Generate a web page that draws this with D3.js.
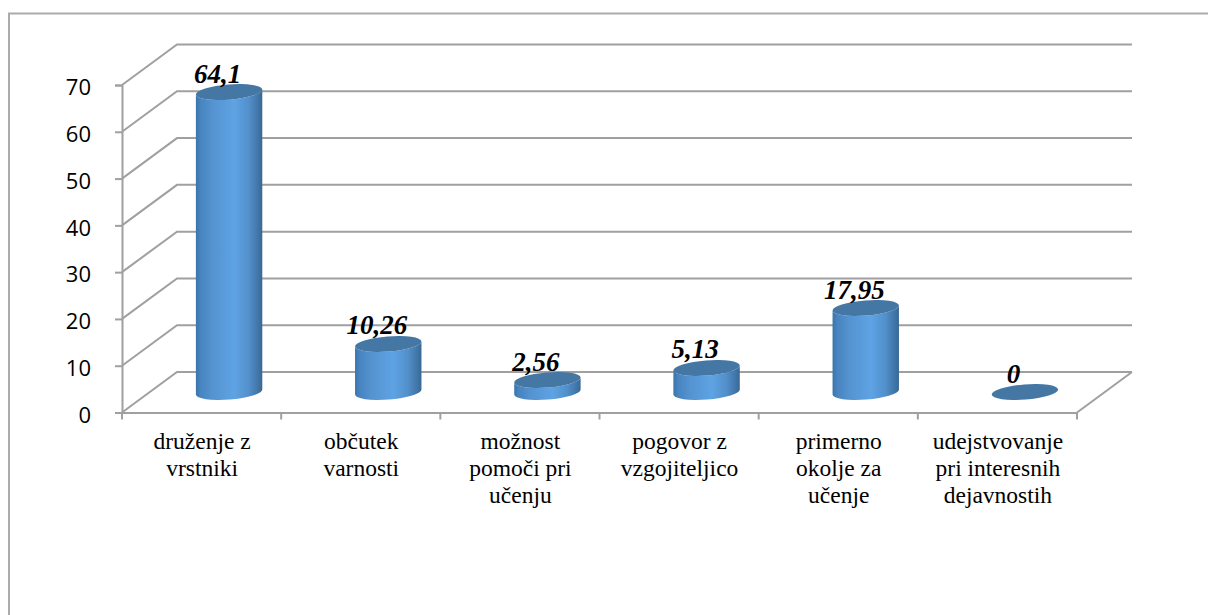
<!DOCTYPE html>
<html><head><meta charset="utf-8">
<script src="https://cdn.jsdelivr.net/npm/d3@7"></script>
<style>html,body{margin:0;padding:0;background:#fff}svg{display:block}</style>
</head><body><div id="c"></div>
<script>
const categories = ["druženje z vrstniki","občutek varnosti","možnost pomoči pri učenju","pogovor z vzgojiteljico","primerno okolje za učenje","udejstvovanje pri interesnih dejavnostih"];
const categoryLines = [["druženje z","vrstniki"],["občutek","varnosti"],["možnost","pomoči pri","učenju"],["pogovor z","vzgojiteljico"],["primerno","okolje za","učenje"],["udejstvovanje","pri interesnih","dejavnostih"]];
const values = [64.1,10.26,2.56,5.13,17.95,0];
const valueLabels = ["64,1","10,26","2,56","5,13","17,95","0"];
const yTicks = [0,10,20,30,40,50,60,70];

const W=1208,H=615, depthX=55, depthY=-40.5;
const svg=d3.select("#c").append("svg").attr("width",W).attr("height",H);
const x=d3.scaleBand().domain(categories).range([122,1077]);
const y=d3.scaleLinear().domain([0,70]).range([412.5,85]);
const gridC="#a0a0a0";

svg.append("path").attr("d",`M9,${H}V13.5H${W}`).attr("fill","none").attr("stroke","#ababab").attr("stroke-width",2);

const defs=svg.append("defs");
const g=defs.append("linearGradient").attr("id","side");
[[0,"#3c74aa"],[.07,"#4784c0"],[.25,"#5593d0"],[.58,"#5ea3e4"],[.8,"#528fca"],[.95,"#3f73a4"],[1,"#386893"]]
 .forEach(s=>g.append("stop").attr("offset",s[0]).attr("stop-color",s[1]));
defs.append("filter").attr("id","soft").append("feGaussianBlur").attr("stdDeviation",0.6);

// walls and floor
const grid=svg.append("g").attr("fill","none").attr("stroke",gridC).attr("stroke-width",2);
yTicks.forEach(t=>{
  grid.append("path").attr("d",`M122,${y(t)}L${122+depthX},${y(t)+depthY}H${1077+depthX}`);
});
grid.append("path").attr("d",`M${1077+depthX},${y(0)+depthY}L1077,${y(0)}`);

// axes
const ay=svg.append("g").attr("transform","translate(122,0)").call(d3.axisLeft(y).tickValues(yTicks).tickSize(7).tickPadding(24).tickFormat(d3.format("d")));
ay.selectAll("path,line").attr("stroke",gridC).attr("stroke-width",2);
ay.selectAll("text").attr("font-family","'Open Sans',sans-serif").attr("font-size",22).attr("fill","#000").attr("dy","0.44em");
const ax=svg.append("g").attr("transform",`translate(0,${y(0)})`).call(d3.axisBottom(x).tickValues(categories).tickSize(0).tickFormat(""));
ax.selectAll("path").attr("stroke",gridC).attr("stroke-width",2);
ax.selectAll(".tick").remove();
const edges=categories.map(c=>x(c)).concat([x.range()[1]]);
svg.append("g").selectAll("line").data(edges).join("line")
  .attr("x1",d=>d).attr("x2",d=>d).attr("y1",y(0)).attr("y2",y(0)+7)
  .attr("stroke",gridC).attr("stroke-width",2);

// category labels
const lab=svg.append("g").attr("font-family","'Liberation Serif',serif").attr("font-size",23.5).attr("fill","#000").attr("text-anchor","middle");
categories.forEach((c,i)=>{
  categoryLines[i].forEach((l,j)=>lab.append("text").attr("x",x(c)+x.bandwidth()/2+0.5).attr("y",449+j*27).text(l));
});

// cylinders
const rx=33.3, ry=7.6, tilt=-4.5*Math.PI/180, baseLift=20.5;
const dx=rx*Math.cos(tilt), dyy=rx*Math.sin(tilt);
const bars=svg.append("g");
categories.forEach((c,i)=>{
  const cx=x(c)+x.bandwidth()/2+depthX/2;
  const by=y(0)-baseLift, ty=y(values[i])-baseLift;
  if(values[i]>0){
    bars.append("path").attr("fill","url(#side)").attr("filter","url(#soft)")
      .attr("d",`M${cx-dx},${ty-dyy}L${cx-dx},${by-dyy}A${rx},${ry} -4.5 0 0 ${cx+dx},${by+dyy}L${cx+dx},${ty+dyy}A${rx},${ry} -4.5 0 1 ${cx-dx},${ty-dyy}Z`);
  }
  bars.append("ellipse").attr("cx",0).attr("cy",0).attr("rx",rx).attr("ry",ry)
    .attr("transform",`translate(${cx},${ty}) rotate(-4.5)`).attr("fill","#4577a5");
  svg.append("text").attr("x",cx-11.5).attr("y",ty-9.5).attr("text-anchor","middle")
    .attr("font-family","'Liberation Serif',serif").attr("font-size",27).attr("font-weight","bold").attr("font-style","italic").attr("fill","#000")
    .text(valueLabels[i]);
});
</script></body></html>
